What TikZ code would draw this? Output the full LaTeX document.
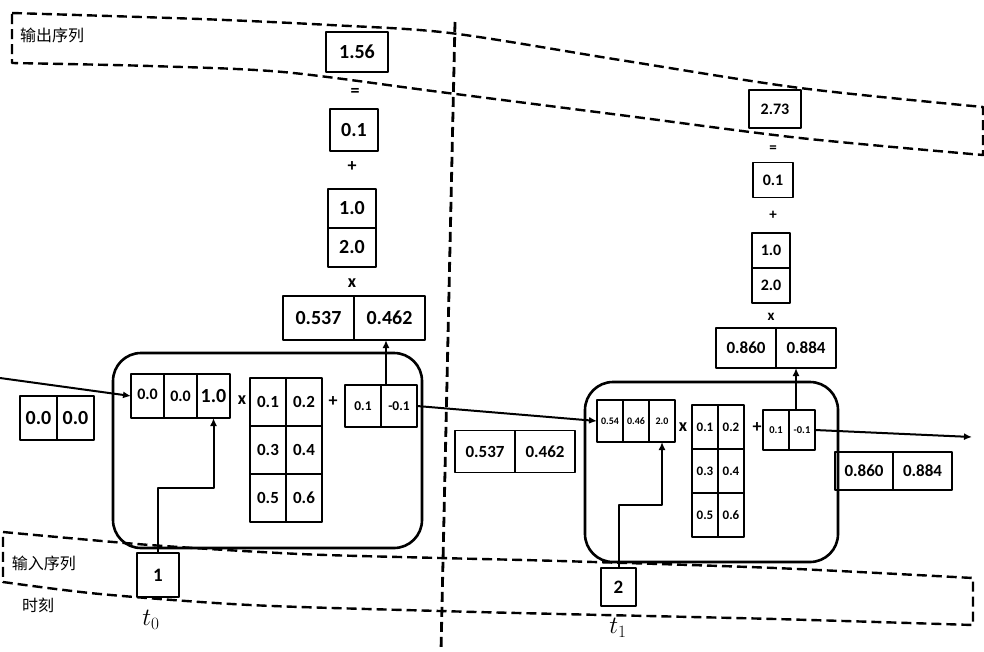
\documentclass[tikz,border=0pt]{standalone}
\usepackage{fontspec}
\setmainfont{Carlito}
\newfontfamily\cjk{Noto Sans CJK SC}
\usetikzlibrary{positioning, calc}
\usetikzlibrary{arrows.meta}
\newcommand{\fsz}[1]{\fontsize{#1}{#1}\selectfont\bfseries}

\begin{document}
\begin{tikzpicture}[x=1pt,y=-1pt,line join=round]
	\useasboundingbox (0,0) rectangle (984,651);

	% rows (from the top of the page)
	\def \hrowzero{396}
	\def \hrowone{421}
	\def \inrowzero{575}
	\def \inrowone{587}

	\tikzstyle{cell}=[rectangle,draw=black,line width=1.7pt,inner sep=0pt,outer sep=0pt]
	\tikzstyle{big-cell}=[cell,minimum width=71pt,minimum height=44pt,font=\fsz{20}]
	\tikzstyle{mid-cell}=[cell,minimum width=60pt,minimum height=40pt,font=\fsz{17}]
	\tikzstyle{col0-cell}=[cell,minimum width=48pt,minimum height=40pt,font=\fsz{20}]
	\tikzstyle{col1-cell}=[cell,minimum width=39pt,minimum height=35pt,font=\fsz{16}]
	\tikzstyle{h0-cell}=[cell,minimum width=33pt,minimum height=44pt,font=\fsz{16}]
	\tikzstyle{w0-cell}=[cell,minimum width=36pt,minimum height=48pt,font=\fsz{17}]
	\tikzstyle{b0-cell}=[cell,minimum width=36pt,minimum height=42pt,font=\fsz{13.5}]
	\tikzstyle{h1-cell}=[cell,minimum width=26pt,minimum height=42pt,font=\fsz{10}]
	\tikzstyle{w1-cell}=[cell,minimum width=26pt,minimum height=44pt,font=\fsz{13}]
	\tikzstyle{b1-cell}=[cell,minimum width=26pt,minimum height=40pt,font=\fsz{10.5}]
	\tikzstyle{in-cell}=[cell,minimum width=42pt,minimum height=44pt,font=\fsz{19}]
	\tikzstyle{rnn}=[rectangle,draw=black,line width=2.6pt,rounded corners=28pt,inner sep=0pt]
	\tikzstyle{op}=[inner sep=0pt,font=\fsz{18}]
	\tikzstyle{annot}=[inner sep=0pt,font={\fontsize{16}{16}\selectfont\cjk}]
	\tikzstyle{label}=[inner sep=0pt,font=\fontsize{24}{24}\selectfont]
	\tikzstyle{band}=[draw=black,line width=2.4pt,dash pattern=on 10pt off 5pt]
	\tikzstyle{arr}=[draw=black,line width=2pt,-{Latex[length=8pt,width=7pt]}]

	% bands
	\draw[band] plot[smooth] coordinates {(12,13) (200,19) (330,25) (450,33) (620,60) (800,88) (983,107)}
		-- plot[smooth] coordinates {(983,155) (800,138) (620,115) (440,92) (283,72) (150,66) (12,63)} -- cycle;
	\draw[band] plot[smooth] coordinates {(3,532) (150,545) (300,554) (440,558) (560,561) (775,568) (973,578)}
		-- plot[smooth] coordinates {(973,625) (775,619) (560,614) (440,611) (250,605) (100,594) (3,582)} -- cycle;
	\coordinate (split-top) at (455,22);
	\coordinate (split-bot) at (441,651);
	\draw[band,line width=2.8pt] (split-top) -- (split-bot);

	\node[annot] (out-seq) at (52,35) {输出序列};
	\node[annot] (in-seq) at (44,563) {输入序列};
	\node[annot] (time) at (38,605) {时刻};
	\node[label] (tl0) at (151,620) {$t_0$};
	\node[label] (tl1) at (618,628) {$t_1$};

	% step t0
	\node[rnn,minimum width=309pt,minimum height=195pt] (rnn0) at (267.5,450.5) {};

	\node[big-cell,minimum width=37pt] (s0a) at (38.5,418) {0.0};
	\node[big-cell,minimum width=37pt] (s0b) [right=0pt of s0a] {0.0};

	\node[h0-cell] 	(h0a)	at (147.5,\hrowzero)	{\raisebox{4pt}{0.0}};
	\node[h0-cell] 	(h0b)	[right=0pt of h0a]	{0.0};
	\node[h0-cell,font=\fsz{20}] 	(h0c)	[right=0pt of h0b]	{1.0};
	\node[op] (x0) at (242,400) {x};

	\node[w0-cell] 	(w0a)	at (268,402)	{0.1};
	\node[w0-cell] 	(w0b)	[right=0pt of w0a]	{0.2};
	\node[w0-cell] 	(w0c)	[below=0pt of w0a]	{0.3};
	\node[w0-cell] 	(w0d)	[right=0pt of w0c]	{0.4};
	\node[w0-cell] 	(w0e)	[below=0pt of w0c]	{0.5};
	\node[w0-cell] 	(w0f)	[right=0pt of w0e]	{0.6};
	\node[op] (p0) at (333,402) {+};

	\node[b0-cell] 	(b0a)	at (363,406)	{0.1};
	\node[b0-cell] 	(b0b)	[right=0pt of b0a]	{-0.1};

	\node[big-cell] 	(o0a)	at (318.5,318)	{0.537};
	\node[big-cell] 	(o0b)	[right=0pt of o0a]	{0.462};
	\node[op] (ox0) at (352,283) {x};
	\node[col0-cell,minimum height=39pt] 	(ow0a)	at (352,208.5)	{1.0};
	\node[col0-cell,minimum height=39pt] 	(ow0b)	[below=0pt of ow0a]	{2.0};
	\node[op] (op0) at (352,167) {+};
	\node[col0-cell,minimum height=42pt] 	(ob0)	at (354,130)	{0.1};
	\node[op] (oe0) at (355,92) {=};
	\node[col0-cell,minimum width=62pt] 	(y0)	at (357,52)	{1.56};

	\node[in-cell] 	(x-in0)	at (158,\inrowzero)	{1};

	% step t1
	\node[rnn,minimum width=253pt,minimum height=180pt] (rnn1) at (711.5,472) {};

	\node[mid-cell,minimum height=42pt] 	(s1a)	at (485,451.5)	{0.537};
	\node[mid-cell,minimum height=42pt] 	(s1b)	[right=0pt of s1a]	{0.462};

	\node[h1-cell] 	(h1a)	at (610,\hrowone)	{0.54};
	\node[h1-cell] 	(h1b)	[right=0pt of h1a]	{0.46};
	\node[h1-cell] 	(h1c)	[right=0pt of h1b]	{2.0};
	\node[op] (x1) at (683,427) {x};

	\node[w1-cell] 	(w1a)	at (705,427)	{0.1};
	\node[w1-cell] 	(w1b)	[right=0pt of w1a]	{0.2};
	\node[w1-cell] 	(w1c)	[below=0pt of w1a]	{0.3};
	\node[w1-cell] 	(w1d)	[right=0pt of w1c]	{0.4};
	\node[w1-cell] 	(w1e)	[below=0pt of w1c]	{0.5};
	\node[w1-cell] 	(w1f)	[right=0pt of w1e]	{0.6};
	\node[op] (p1) at (757,428) {+};

	\node[b1-cell] 	(b1a)	at (776,430)	{0.1};
	\node[b1-cell] 	(b1b)	[right=0pt of b1a]	{-0.1};

	\node[mid-cell] 	(o1a)	at (746,348)	{0.860};
	\node[mid-cell] 	(o1b)	[right=0pt of o1a]	{0.884};
	\node[op,font=\fsz{15}] (ox1) at (771,317) {x};
	\node[col1-cell,minimum width=38pt] 	(ow1a)	at (771,250.5)	{1.0};
	\node[col1-cell,minimum width=38pt] 	(ow1b)	[below=0pt of ow1a]	{2.0};
	\node[op,font=\fsz{15}] (op1) at (773,215) {+};
	\node[col1-cell,minimum width=40pt] 	(ob1)	at (773,180)	{0.1};
	\node[op,font=\fsz{15}] (oe1) at (773,149) {=};
	\node[col1-cell,minimum width=52pt,minimum height=38pt] 	(y1)	at (775,109)	{2.73};

	\node[in-cell,minimum width=35pt,minimum height=38pt] 	(x-in1)	at (618.5,\inrowone)	{2};

	\node[mid-cell,minimum width=58.5pt,minimum height=38pt] 	(s2a)	at (864,471)	{0.860};
	\node[mid-cell,minimum width=58.5pt,minimum height=38pt] 	(s2b)	[right=0pt of s2a]	{0.884};

	% connectors
	\coordinate (h-start) at (0,378);
	\coordinate (h-end) at (972,437);
	\draw[arr] (h-start) -- (h0a.west);
	\draw[arr] (x-in0.north) -- ++(0,-65) -| (h0c.south);
	\draw[arr] ($(b0a.north east)+(5,0)$) coordinate (up0) -- (up0 |- o0b.south);
	\draw[arr] (b0b.east) -- (h1a.west);

	\draw[arr] (x-in1.north) -- ++(0,-63) -| (h1c.south);
	\draw[arr] ($(b1a.north east)+(7,0)$) coordinate (up1) -- (up1 |- o1b.south);
	\draw[arr] (b1b.east) -- (h-end);
\end{tikzpicture}
\end{document}
